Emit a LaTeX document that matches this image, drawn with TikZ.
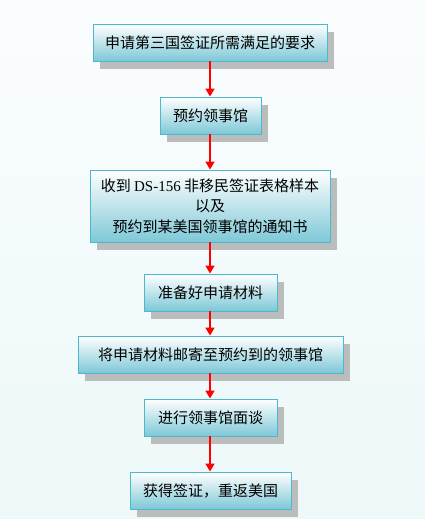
\documentclass[tikz,border=0pt]{standalone}
\usepackage{fontspec}
\usepackage{xcolor}
\usepackage{tikz}
\usetikzlibrary{arrows.meta,positioning,shadows}
\newfontfamily\cjk{Noto Sans CJK SC}
\newfontfamily\tnr{Liberation Serif}
\definecolor{VSBorder}{HTML}{4BB8CC}
\definecolor{VSCyan}  {HTML}{7EC8D7}
\definecolor{VSShadow}{HTML}{BBBDBD}
\definecolor{VSBgTop} {HTML}{FAFDFE}
\definecolor{VSBgBot} {HTML}{EDF8F9}
\definecolor{VSRed}   {HTML}{FF0000}
\tikzset{
  stepbox/.style={draw=VSBorder,line width=0.9pt,
    top color=white,middle color=VSCyan!25!white,bottom color=VSCyan,
    font=\cjk\fontsize{15pt}{20.5pt}\selectfont,text=black,
    minimum height=37pt,inner sep=0pt,align=center,
    drop shadow={shadow xshift=7pt,shadow yshift=-8pt,fill=VSShadow,opacity=1}},
  flow/.style={draw=VSRed,line width=1.6pt,-{Triangle[length=8pt,width=9pt]}}
}
\begin{document}
\begin{tikzpicture}[x=1pt,y=-1pt]
    % background
    \shade[top color=VSBgTop,bottom color=VSBgBot] (0,0) rectangle (425,519);
    \useasboundingbox (0,0) rectangle (425,519);

    % steps
    \node[stepbox,minimum width=234pt] (req)   at (210,42.5){申请第三国签证所需满足的要求};
    \node[stepbox,minimum width=101pt] (appt)  at (210.5,115.5){预约领事馆};
    \node[stepbox,minimum width=240pt,minimum height=72pt] (form) at (210,206)
      {收到 {\tnr DS-156} 非移民签证表格样本\\以及\\预约到某美国领事馆的通知书};
    \node[stepbox,minimum width=133pt] (docs)  at (210.5,292.5){准备好申请材料};
    \node[stepbox,minimum width=265pt] (mail)  at (210.5,354.5){将申请材料邮寄至预约到的领事馆};
    \node[stepbox,minimum width=133pt] (intv)  at (210.5,417.5){进行领事馆面谈};
    \node[stepbox,minimum width=161pt] (visa)  at (210.5,490.5){获得签证，重返美国};

    % arrows
    \draw[flow] (req.south -| 210,0)  -- (appt.north -| 210,0);
    \draw[flow] (appt.south -| 210,0) -- (form.north -| 210,0);
    \draw[flow] (form.south -| 210,0) -- (docs.north -| 210,0);
    \draw[flow] (docs.south -| 210,0) -- (mail.north -| 210,0);
    \draw[flow] (mail.south -| 210,0) -- (intv.north -| 210,0);
    \draw[flow] (intv.south -| 210,0) -- (visa.north -| 210,0);
  \end{tikzpicture}
\end{document}
